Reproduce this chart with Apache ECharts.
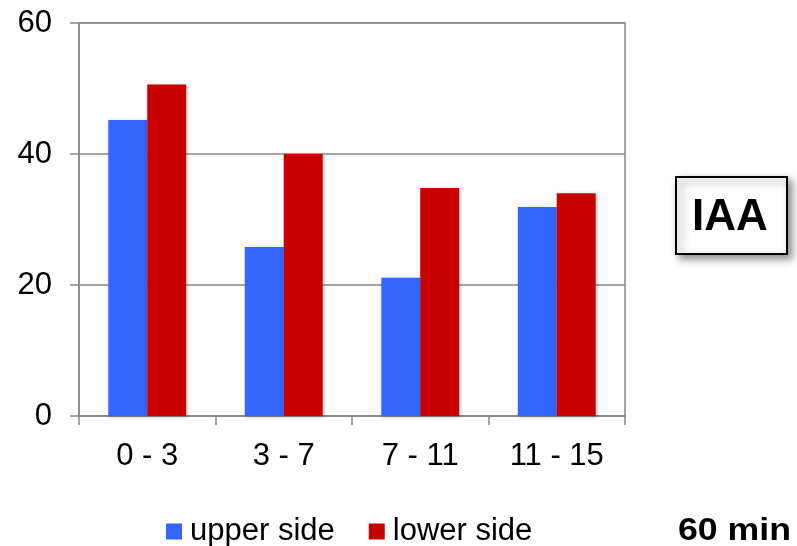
<!DOCTYPE html>
<html>
<head>
<meta charset="utf-8">
<script src="https://cdn.jsdelivr.net/npm/echarts@6/dist/echarts.min.js"></script>
<style>
  html, body { margin: 0; padding: 0; background: #fff; }
  #chart { width: 797px; height: 546px; }
</style>
</head>
<body>
<div id="chart"></div>
<script>
// Time windows (minutes) and measured values per side
const categories = ['0 - 3', '3 - 7', '7 - 11', '11 - 15'];
const upperSide = [45.2, 25.8, 21.1, 31.9];
const lowerSide = [50.6, 40.0, 34.8, 34.0];
const yTicks = { min: 0, max: 60, interval: 20 };

const FONT = '"Liberation Sans", Arial, sans-serif';
const AXIS_GRAY = '#888888';

const chart = echarts.init(document.getElementById('chart'), null, { renderer: 'canvas' });

const barShadow = {
  shadowBlur: 4,
  shadowColor: 'rgba(0,0,0,0.25)',
  shadowOffsetX: 1,
  shadowOffsetY: 1
};

chart.setOption({
  backgroundColor: '#ffffff',
  animation: false,
  grid: { left: 79, top: 23, right: 172, bottom: 130, show: true, borderColor: AXIS_GRAY, borderWidth: 1.5 },
  xAxis: {
    type: 'category',
    data: categories,
    axisLine: { lineStyle: { color: AXIS_GRAY, width: 1.5 } },
    axisTick: { show: true, length: 9, alignWithLabel: false, lineStyle: { color: AXIS_GRAY, width: 1.5 } },
    axisLabel: { color: '#000', fontFamily: FONT, fontSize: 31, margin: 25 }
  },
  yAxis: {
    type: 'value',
    min: yTicks.min,
    max: yTicks.max,
    interval: yTicks.interval,
    axisLine: { show: true, lineStyle: { color: AXIS_GRAY, width: 1.5 } },
    axisTick: { show: true, length: 9, lineStyle: { color: AXIS_GRAY, width: 1.5 } },
    splitLine: { show: true, lineStyle: { color: AXIS_GRAY, width: 1.5 } },
    axisLabel: { color: '#000', fontFamily: FONT, fontSize: 31, margin: 27 }
  },
  legend: {
    left: 161,
    top: 511,
    icon: 'rect',
    itemWidth: 16,
    itemHeight: 16,
    itemGap: 34,
    textStyle: { fontFamily: FONT, fontSize: 31, color: '#000', padding: [0, 0, 0, 3] },
    data: ['upper side', 'lower side']
  },
  series: [
    {
      name: 'upper side',
      type: 'bar',
      data: upperSide,
      barGap: '0%',
      barCategoryGap: '43%',
      itemStyle: Object.assign({ color: '#3366ff' }, barShadow)
    },
    {
      name: 'lower side',
      type: 'bar',
      data: lowerSide,
      itemStyle: Object.assign({ color: '#c80000' }, barShadow)
    }
  ],
  graphic: [
    {
      type: 'group',
      left: 675,
      top: 176,
      children: [
        {
          type: 'rect',
          shape: { x: 0, y: 0, width: 111, height: 77 },
          style: {
            fill: '#ffffff',
            stroke: '#000000',
            lineWidth: 2,
            shadowBlur: 8,
            shadowColor: 'rgba(0,0,0,0.45)',
            shadowOffsetX: 4,
            shadowOffsetY: 4
          }
        },
        {
          type: 'text',
          x: 54,
          y: 41,
          style: {
            text: 'IAA',
            fontFamily: FONT,
            fontSize: 44,
            fontWeight: 'bold',
            fill: '#000',
            align: 'center',
            verticalAlign: 'middle'
          }
        }
      ]
    },
    {
      type: 'text',
      x: 678,
      y: 531,
      scaleX: 1.15,
      style: {
        text: '60 min',
        fontFamily: FONT,
        fontSize: 31,
        fontWeight: 'bold',
        fill: '#000',
        align: 'left',
        verticalAlign: 'middle'
      }
    }
  ]
});
</script>
</body>
</html>
